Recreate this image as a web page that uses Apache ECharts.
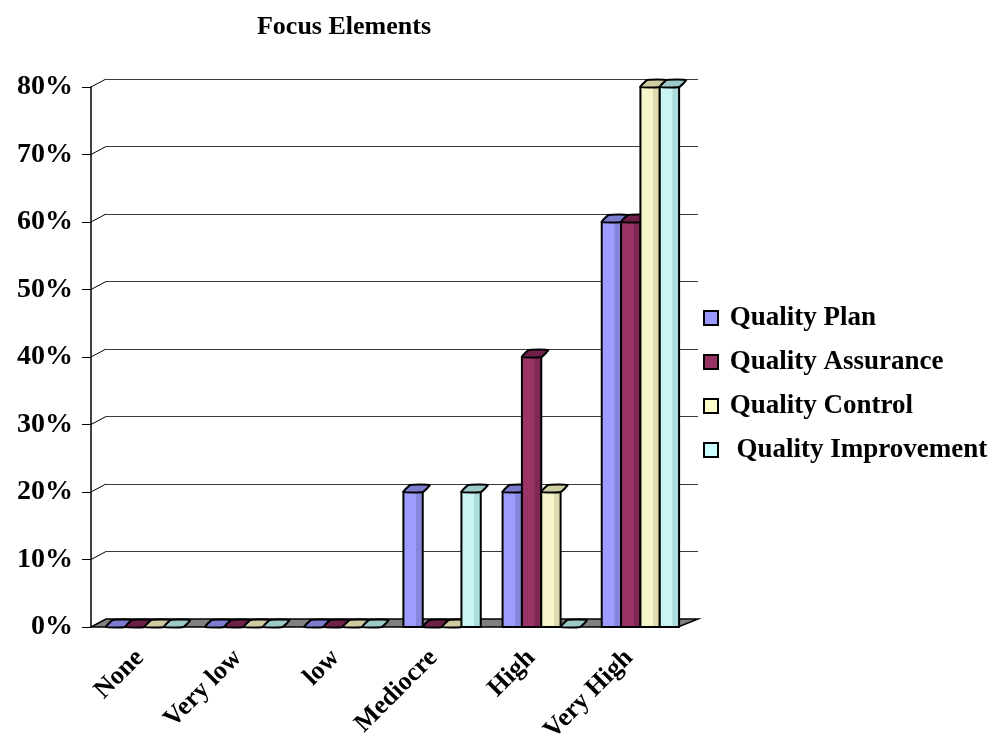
<!DOCTYPE html>
<html>
<head>
<meta charset="utf-8">
<title>Focus Elements</title>
<script src="https://cdn.jsdelivr.net/npm/echarts@6/dist/echarts.min.js"></script>
<style>
  html, body { margin: 0; padding: 0; background: #ffffff; }
  #chart { width: 993px; height: 738px; }
</style>
</head>
<body>
<div id="chart"></div>
<script>
// Rating levels along the horizontal axis
const categories = ['None', 'Very low', 'low', 'Mediocre', 'High', 'Very High'];

// Share of answers (%) per focus element
const qualityPlan        = [0, 0, 0, 20, 20, 60];
const qualityAssurance   = [0, 0, 0, 0, 40, 60];
const qualityControl     = [0, 0, 0, 0, 20, 80];
const qualityImprovement = [0, 0, 0, 20, 0, 80];

const seriesNames = ['Quality Plan', 'Quality Assurance', 'Quality Control', 'Quality Improvement'];
const seriesValues = [qualityPlan, qualityAssurance, qualityControl, qualityImprovement];

// Value-axis ticks (%)
const percentTicks = [0, 10, 20, 30, 40, 50, 60, 70, 80];

// Face colours: [legend/base, left light, right shade, top cap]
const palette = [
  ['#9999ff', '#9d9dff', '#8686de', '#7b7bd0'],
  ['#993366', '#9a3366', '#7e2854', '#6e2048'],
  ['#ffffcc', '#f6f4c9', '#dedbb0', '#cfcca2'],
  ['#ccffff', '#c9f4f4', '#acdcdc', '#9ccaca']
];

const FONT = '"Liberation Serif", "Times New Roman", serif';
const FRONT = { left: 91, top: 87, width: 587, height: 540 };
const DEPTH_X = 15, DEPTH_Y = 8;      // shift from front plane to back wall
const BACK_RIGHT_EXTRA = 5;           // back wall is slightly wider
const BAR_GAP = 0.22;                 // gap between category groups
const CAP_DX = 7, CAP_DY = 7;         // top face of each column

const chart = echarts.init(document.getElementById('chart'), null, { renderer: 'canvas' });

function columnRenderer(seriesIdx) {
  const col = palette[seriesIdx];
  return function (params, api) {
    const cat = api.value(0);
    const val = api.value(1);
    const base = api.coord([cat, 0]);
    const top = api.coord([cat, val]);
    const band = api.size([1, 0])[0];
    const groupW = band * (1 - BAR_GAP);
    const barW = groupW / seriesNames.length;
    const x0 = base[0] - groupW / 2 + seriesIdx * barW;
    const x1 = x0 + barW;
    const y0 = base[1];
    const yT = top[1];
    const children = [];
    if (y0 - yT > 0.5) {
      children.push({
        type: 'rect',
        shape: { x: x0, y: yT, width: barW, height: y0 - yT },
        style: {
          fill: new echarts.graphic.LinearGradient(0, 0, 1, 0, [
            { offset: 0, color: col[1] },
            { offset: 0.62, color: col[1] },
            { offset: 0.66, color: col[2] },
            { offset: 1, color: col[2] }
          ]),
          stroke: '#000',
          lineWidth: 2
        }
      });
    }
    children.push({
      type: 'polygon',
      shape: {
        points: [[x0, yT], [x0 + CAP_DX, yT - CAP_DY], [x1 + CAP_DX, yT - CAP_DY], [x1, yT]],
        smooth: 0.15
      },
      style: { fill: col[3], stroke: '#000', lineWidth: 2 }
    });
    return { type: 'group', children: children };
  };
}

// Floor slab and the little connectors from the front axis to the back wall
function frameRenderer(params, api) {
  const cs = params.coordSys;
  const children = [];
  percentTicks.forEach(function (t) {
    const y = api.coord([0, t])[1];
    if (t > 0) {
      children.push({
        type: 'polyline',
        shape: { points: [[cs.x, y], [cs.x + DEPTH_X, y - DEPTH_Y]] },
        style: { stroke: '#000', lineWidth: 1, fill: null }
      });
    }
  });
  const y0 = api.coord([0, 0])[1];
  children.push({
    type: 'polygon',
    shape: {
      points: [
        [cs.x, y0],
        [cs.x + cs.width, y0],
        [cs.x + cs.width + DEPTH_X + BACK_RIGHT_EXTRA, y0 - DEPTH_Y],
        [cs.x + DEPTH_X, y0 - DEPTH_Y]
      ]
    },
    style: { fill: '#808080', stroke: '#000', lineWidth: 1.5 }
  });
  return { type: 'group', children: children };
}

const columnSeries = seriesNames.map(function (name, i) {
  return {
    name: name,
    type: 'custom',
    xAxisIndex: 1,
    yAxisIndex: 1,
    z: 5 + i,
    itemStyle: { color: palette[i][0], borderColor: '#000', borderWidth: 1.5 },
    renderItem: columnRenderer(i),
    encode: { x: 0, y: 1 },
    data: categories.map(function (c, k) { return [k, seriesValues[i][k]]; })
  };
});

const option = {
  animation: false,
  backgroundColor: '#ffffff',
  title: {
    text: 'Focus Elements',
    left: 339,
    textAlign: 'center',
    top: 9,
    textStyle: { fontFamily: FONT, fontWeight: 'bold', fontSize: 26, color: '#000' }
  },
  legend: {
    orient: 'vertical',
    left: 703,
    top: 303,
    padding: 0,
    itemWidth: 14,
    itemHeight: 14,
    itemGap: 14,
    icon: 'rect',
    data: seriesNames,
    formatter: function (name) {
      return (name === 'Quality Improvement' ? '  ' : ' ') + name;
    },
    textStyle: { fontFamily: FONT, fontWeight: 'bold', fontSize: 27, lineHeight: 30, color: '#000' }
  },
  grid: [
    // front plane: value axis and category labels
    { left: FRONT.left, top: FRONT.top, width: FRONT.width, height: FRONT.height,
      outerBoundsMode: 'none', containLabel: false },
    // column plane
    { left: FRONT.left + 4, top: FRONT.top, width: FRONT.width + 8, height: FRONT.height,
      outerBoundsMode: 'none', containLabel: false },
    // back wall
    { left: FRONT.left + DEPTH_X, top: FRONT.top - DEPTH_Y,
      width: FRONT.width + BACK_RIGHT_EXTRA, height: FRONT.height,
      outerBoundsMode: 'none', containLabel: false }
  ],
  xAxis: [
    {
      gridIndex: 0, type: 'category', data: categories,
      axisLine: { show: false }, axisTick: { show: false },
      axisLabel: {
        rotate: 45, margin: 27, interval: 0,
        fontFamily: FONT, fontWeight: 'bold', fontSize: 26, color: '#000'
      }
    },
    { gridIndex: 1, type: 'category', data: categories, show: false },
    { gridIndex: 2, type: 'category', data: categories, show: false }
  ],
  yAxis: [
    {
      gridIndex: 0, type: 'value', min: 0, max: 80, interval: 10,
      axisLine: { show: true, lineStyle: { color: '#000', width: 1.5 } },
      axisTick: { show: true, length: 9, lineStyle: { color: '#000', width: 1 } },
      splitLine: { show: false },
      axisLabel: {
        formatter: '{value}%', margin: 18,
        fontFamily: FONT, fontWeight: 'bold', fontSize: 28, color: '#000'
      }
    },
    { gridIndex: 1, type: 'value', min: 0, max: 80, interval: 10, show: false },
    {
      gridIndex: 2, type: 'value', min: 0, max: 80, interval: 10,
      axisLine: { show: false }, axisTick: { show: false }, axisLabel: { show: false },
      splitLine: { show: true, lineStyle: { color: '#3a3a3a', width: 1 } }
    }
  ],
  series: [
    {
      type: 'custom',
      name: 'frame',
      xAxisIndex: 0,
      yAxisIndex: 0,
      z: 2,
      silent: true,
      renderItem: frameRenderer,
      data: [[0, 0]]
    }
  ].concat(columnSeries)
};

chart.setOption(option);
</script>
</body>
</html>
